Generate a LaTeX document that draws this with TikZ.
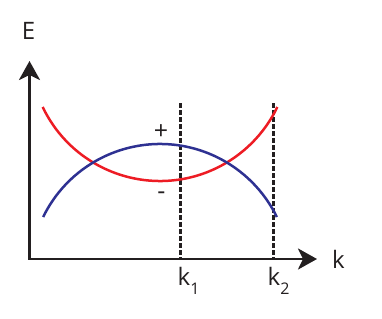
\documentclass[tikz,border=0pt]{standalone}
\usepackage{fontspec}
\setmainfont{Open Sans}
\usetikzlibrary{arrows.meta}
\definecolor{cred}{HTML}{ED1C24}
\definecolor{cblue}{HTML}{2E3192}
\definecolor{cblack}{HTML}{231F20}
\tikzset{
  axis/.style={draw=cblack, line width=2.8pt, {Stealth[length=19pt,width=21pt,inset=5pt]}-{Stealth[length=19pt,width=21pt,inset=5pt]}},
  guide/.style={draw=cblack, line width=2.8pt, dash pattern=on 4.5pt off 2.5pt},
  band/.style={line width=2.5pt},
  lbl/.style={font=\fontsize{24}{24}\selectfont, text=cblack, inner sep=0pt},
  sgn/.style={font=\fontsize{25}{25}\selectfont, text=cblack, inner sep=0pt}
}
\newcommand{\subidx}[1]{\raisebox{-9pt}{\fontsize{16}{16}\selectfont #1}}
\begin{document}
\begin{tikzpicture}[x=1pt,y=-1pt]
\useasboundingbox (0,0) rectangle (382,318);
\coordinate (ytip) at (29.5,61);
\coordinate (origin) at (29.5,259);
\coordinate (xtip) at (317,259);
\draw[axis] (ytip) -- (origin) -- (xtip);
% dashed guides
\coordinate (g1top) at (180.7,103);
\coordinate (g1bot) at (180.7,259);
\coordinate (g2top) at (273.3,103);
\coordinate (g2bot) at (273.3,259);
\draw[guide] (g1top) -- (g1bot);
\draw[guide] (g2top) -- (g2bot);
% bands
\draw[band, cred] (160,51) ++(154.5:130) arc[start angle=154.5, end angle=25.5, radius=130];
\draw[band, cblue] (160,274) ++(206:130) arc[start angle=206, end angle=334, radius=130];
% labels
\node[lbl, anchor=base] (E) at (28.5,39.5) {E};
\node[lbl, anchor=base] (k) at (338.5,268.3) {k};
\node[lbl, anchor=base west] (k1) at (177.5,285) {k\subidx{1}};
\node[lbl, anchor=base west] (k2) at (267.5,285) {k\subidx{2}};
\node[sgn] (plus) at (161,132) {+};
\node[sgn] (minus) at (161.5,196) {-};
\end{tikzpicture}
\end{document}
